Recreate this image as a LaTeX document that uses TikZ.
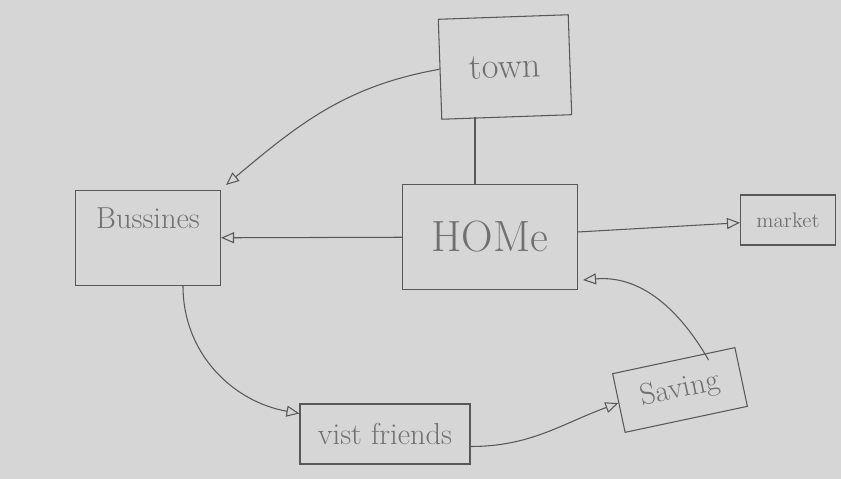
\documentclass[tikz,border=0pt]{standalone}
\usepackage{tikz}
\usetikzlibrary{positioning}
\usetikzlibrary{arrows.meta}
\usepackage{xcolor}

\definecolor{paper}{RGB}{214,214,214}
\definecolor{ink}{RGB}{88,88,88}
\definecolor{pencil}{RGB}{112,112,112}

\begin{document}
\begin{tikzpicture}[
    box/.style={draw=ink, semithick, text=pencil, inner sep=2pt},
    link/.style={draw=ink, semithick},
    flow/.style={link, -{Triangle[open, length=2.6mm, width=2.2mm]}}
]
    % Paper
    \fill[paper] (0,0) rectangle (16.82,9.58);
    \useasboundingbox (0,0) rectangle (16.82,9.58);

    % Places
    \node[box, minimum width=2.6cm, minimum height=2.0cm, rotate=2] (town) at (10.1,8.24) {\huge town};
    \node[box, minimum width=2.9cm, minimum height=1.9cm, text depth=8mm] (Bussines) at (2.96,4.82) {\LARGE Bussines};
    \node[box, minimum width=3.5cm, minimum height=2.1cm] (Home) at (9.8,4.84) {\Huge HOMe};
    \node[box, minimum width=1.9cm, minimum height=1.0cm] (market) at (15.76,5.18) {\large market};
    \node[box, minimum width=2.5cm, minimum height=1.2cm, rotate=12] (Saving) at (13.6,1.78) {\LARGE Saving};
    \node[box, minimum width=3.4cm, minimum height=1.2cm] (vist) at (7.7,0.9) {\LARGE vist friends};

    % Links between places
    \coordinate (stem) at (9.5,0);
    \draw[link] (Home.north -| stem) -- (town.south -| stem);
    \draw[flow] (town.west) to[out=190, in=40] ([shift={(1mm,1mm)}]Bussines.north east);
    \draw[flow] (Home) -- (Bussines);
    \draw[flow] (Home) -- (market);
    \draw[flow] ([xshift=7mm]Bussines.south) to[out=-90, in=170] ([yshift=-2mm]vist.north west);
    \draw[flow] ([yshift=-2.5mm]vist.east) to[out=0, in=200] (Saving.west);
    \draw[flow] ([xshift=7mm]Saving.north) to[out=120, in=5] ([shift={(1mm,2mm)}]Home.south east);
\end{tikzpicture}
\end{document}
